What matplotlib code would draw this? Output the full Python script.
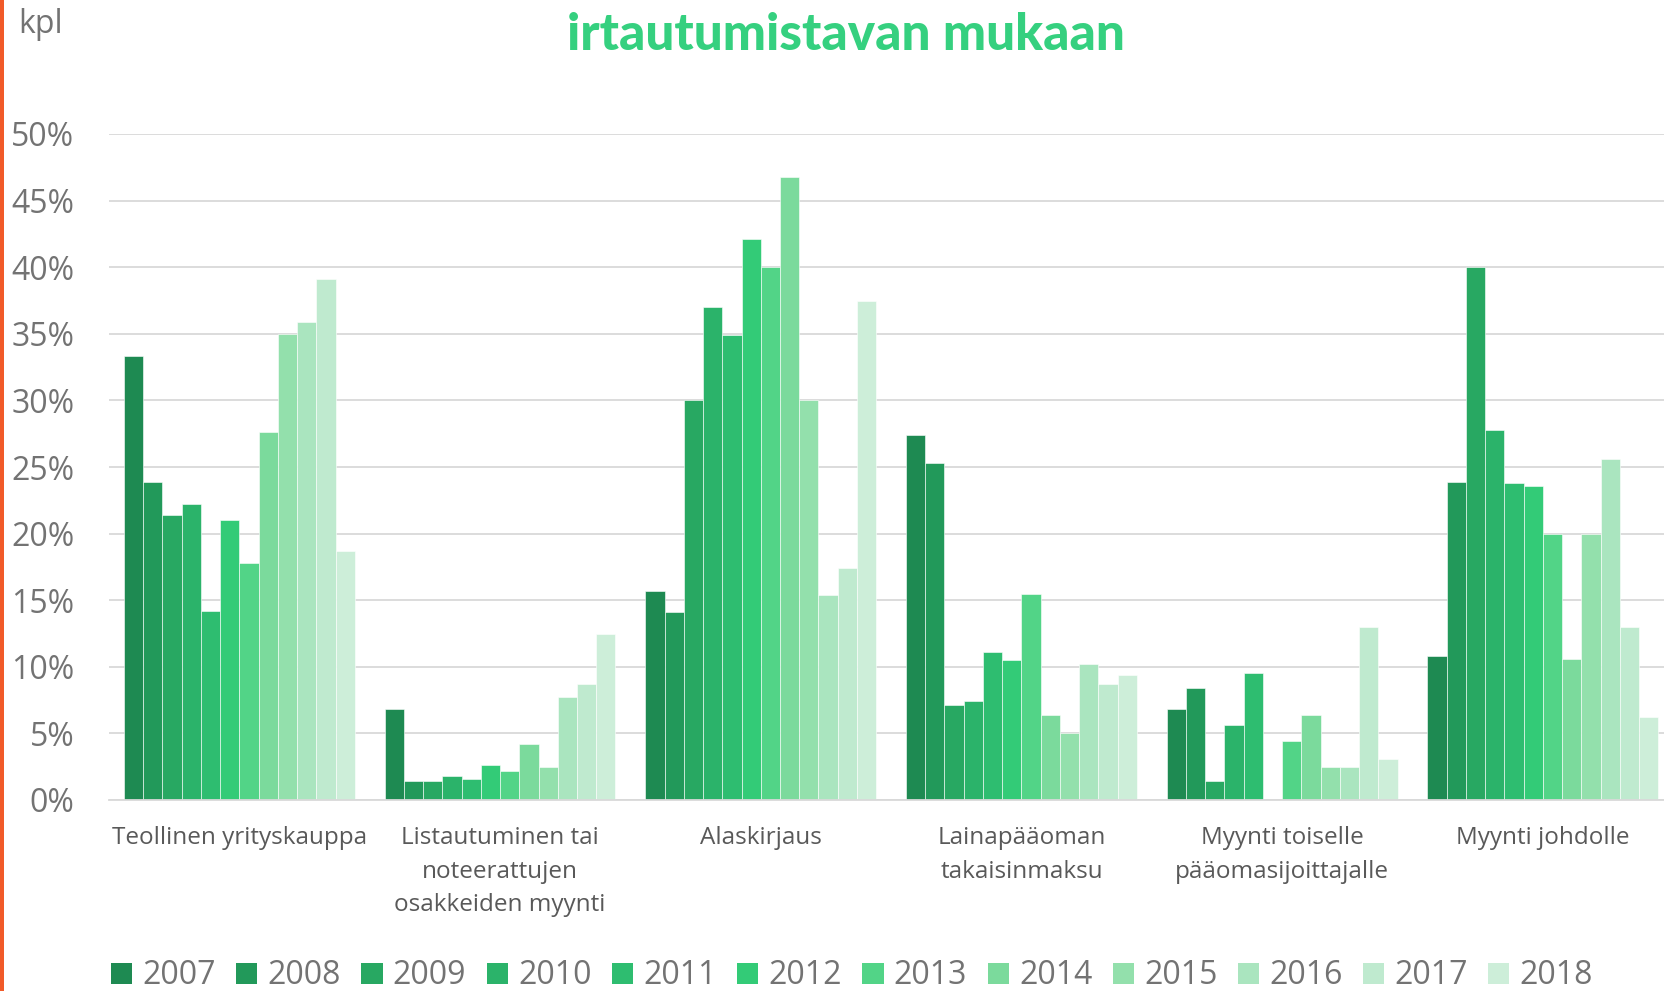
import matplotlib.pyplot as plt
import numpy as np
from matplotlib.patches import Patch, Rectangle
from matplotlib.ticker import FuncFormatter

categories = [
    "Teollinen yrityskauppa",
    "Listautuminen tai\nnoteerattujen\nosakkeiden myynti",
    "Alaskirjaus",
    "Lainapääoman\ntakaisinmaksu",
    "Myynti toiselle\npääomasijoittajalle",
    "Myynti johdolle",
]
years = ["2007", "2008", "2009", "2010", "2011", "2012",
         "2013", "2014", "2015", "2016", "2017", "2018"]

# share of exits (%) per category, one value per year 2007..2018
teollinen = [33.3, 23.9, 21.4, 22.2, 14.2, 21.0, 17.8, 27.6, 35.0, 35.9, 39.1, 18.7]
listautuminen = [6.8, 1.4, 1.4, 1.8, 1.6, 2.6, 2.2, 4.2, 2.5, 7.7, 8.7, 12.5]
alaskirjaus = [15.7, 14.1, 30.0, 37.0, 34.9, 42.1, 40.0, 46.8, 30.0, 15.4, 17.4, 37.5]
lainapaaoma = [27.4, 25.3, 7.1, 7.4, 11.1, 10.5, 15.5, 6.4, 5.0, 10.2, 8.7, 9.35]
toiselle = [6.8, 8.4, 1.4, 5.6, 9.5, 0.0, 4.4, 6.4, 2.5, 2.5, 13.0, 3.1]
johdolle = [10.8, 23.9, 40.0, 27.8, 23.8, 23.6, 20.0, 10.6, 20.0, 25.6, 13.0, 6.2]

colors = ["#1e8a52", "#22995a", "#28a862", "#2bb36a", "#2ebd70", "#33cb77",
          "#52d487", "#7bda9c", "#93e0ac", "#aae5bf", "#bfeacf", "#cdeed9"]

TICK_GRAY = "#737373"
LABEL_GRAY = "#595959"
TITLE_GREEN = "#35d07f"
ORANGE = "#f15a29"

values = np.array([teollinen, listautuminen, alaskirjaus,
                   lainapaaoma, toiselle, johdolle]) / 100.0

W, H = 1664, 991
fig = plt.figure(figsize=(W / 100, H / 100), dpi=100)
ax = fig.add_axes([109 / W, (H - 800) / H, (W - 109) / W, (800 - 134) / H])

x = np.arange(len(categories))
bar_w = 0.0738
for j, year in enumerate(years):
    ax.bar(x + (j - 5.5) * bar_w, values[:, j], width=bar_w,
           color=colors[j], edgecolor="white", linewidth=0.4, zorder=2)

ax.set_xlim(-0.5, -0.5 + 1555 / 260.7)
ax.set_ylim(0, 0.5)
ax.set_yticks(np.arange(0, 0.51, 0.05))
ax.yaxis.set_major_formatter(FuncFormatter(lambda v, _: f"{v * 100:.0f}%"))
ax.grid(axis="y", color="#d9d9d9", linewidth=1.3, zorder=0)
ax.set_axisbelow(True)
for side in ["top", "right", "left"]:
    ax.spines[side].set_visible(False)
ax.spines["bottom"].set_color("#d9d9d9")
ax.spines["bottom"].set_linewidth(1.3)
ax.tick_params(axis="y", length=0, pad=25, labelsize=23, labelcolor=TICK_GRAY)
ax.tick_params(axis="x", length=0, pad=19)
for lbl in ax.get_yticklabels():
    lbl.set_family("Open Sans")

ax.set_xticks(x)
ax.set_xticklabels(categories, fontsize=17.5, color=LABEL_GRAY,
                   family="Open Sans", linespacing=1.52)

# legend
handles = [Patch(facecolor=c, edgecolor="none") for c in colors]
fig.legend(handles, years, loc="center", ncol=12, frameon=False,
           bbox_to_anchor=(852 / W, 1 - 976 / H), borderpad=0,
           handlelength=0.66, handleheight=0.66, handletextpad=0.32,
           columnspacing=0.64,
           prop={"family": "Open Sans", "size": 23})
for t in fig.legends[0].get_texts():
    t.set_color(TICK_GRAY)

fig.text(846 / W, 1 - 36 / H, "irtautumistavan mukaan", ha="center",
         va="center", fontsize=37, weight="black", color=TITLE_GREEN,
         family="Lato")
fig.text(18 / W, 1 - 8 / H, "kpl", ha="left", va="top", fontsize=23,
         color=TICK_GRAY, family="Open Sans")

# orange accent stripe along the left edge
fig.patches.append(Rectangle((0, 0), 4 / W, 1, transform=fig.transFigure,
                             facecolor=ORANGE, edgecolor="none"))

fig.savefig("out.png", dpi=100, facecolor="white")
